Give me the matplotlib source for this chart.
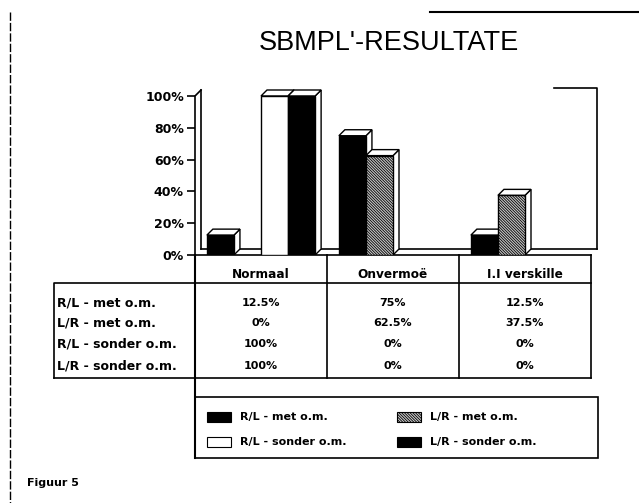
import matplotlib.pyplot as plt
from matplotlib.patches import Polygon, Rectangle

# data
categories = ['Normaal', 'Onvermoë', 'I.I verskille']
series = ['R/L - met o.m.', 'L/R - met o.m.', 'R/L - sonder o.m.', 'L/R - sonder o.m.']
rl_met = [12.5, 75, 12.5]
lr_met = [0, 62.5, 37.5]
rl_sonder = [100, 0, 0]
lr_sonder = [100, 0, 0]
values = [rl_met, lr_met, rl_sonder, lr_sonder]
yticks = [0, 20, 40, 60, 80, 100]

faces = ['black', '#c8c8c8', 'white', 'black']
hatches = [None, '\\\\\\\\\\\\\\\\\\\\\\\\', None, None]

plt.rcParams['hatch.linewidth'] = 0.6

W, H = 639, 503
fig = plt.figure(figsize=(W / 100, H / 100), dpi=100)
fnt = 'DejaVu Sans'

# overlay in pixel coordinates for table, legend and page decorations
ov = fig.add_axes([0, 0, 1, 1], zorder=0)
ov.set_xlim(0, W)
ov.set_ylim(H, 0)
ov.axis('off')

# chart axes: one unit per category (132 px), y in percent (1.59 px per %)
px_cat, px_pct = 132.0, 1.59
x0, y0 = 195, 255
ax = fig.add_axes([x0 / W, (H - y0) / H, 405 / W, 167 / H], zorder=1)
ax.set_facecolor('none')
ax.set_xlim(0, 405 / px_cat)
ax.set_ylim(0, 167 / px_pct)
for s in ax.spines.values():
    s.set_visible(False)
ax.set_xticks([])
ax.set_yticks(yticks)
ax.set_yticklabels([f'{t}%' for t in yticks], fontsize=9, fontweight='bold', family=fnt)
ax.tick_params(axis='y', direction='out', length=6, width=1.2, pad=2)

dx, dy = 6 / px_cat, 6 / px_pct
lw = 1.2

# walls and floor
ax.plot([0, 0, dx], [0, 100, 100 + dy], color='black', lw=lw, clip_on=False)
ax.plot([dx, dx], [dy, 104], color='black', lw=lw, clip_on=False)
ax.plot([dx, 3 + dx], [dy, dy], color='black', lw=lw, clip_on=False, zorder=1)
ax.plot([2.72, 3 + dx, 3 + dx], [105, 105, dy], color='black', lw=lw, clip_on=False)

# 3d bars
bw, off = 0.205, 0.09
for i in range(len(categories)):
    for j, vals in enumerate(values):
        h = vals[i]
        if h == 0:
            continue
        x = i + off + j * bw
        side = Polygon([(x + bw, 0), (x + bw + dx, dy), (x + bw + dx, h + dy), (x + bw, h)],
                       facecolor='white', edgecolor='black', lw=1.0, zorder=2 + j)
        top = Polygon([(x, h), (x + bw, h), (x + bw + dx, h + dy), (x + dx, h + dy)],
                      facecolor='white', edgecolor='black', lw=1.0, zorder=2 + j)
        ax.add_patch(side)
        ax.add_patch(top)
        ax.bar(x, h, width=bw, align='edge', color=faces[j], hatch=hatches[j],
               edgecolor='black', linewidth=1.0, zorder=2 + j)

# title and caption
ov.text(389, 43, "SBMPL'-RESULTATE", ha='center', va='center', fontsize=19.5,
        family='Liberation Sans')
ov.text(27, 483, 'Figuur 5', ha='left', va='center', fontsize=8, fontweight='bold', family=fnt)

# page lines
ov.plot([10, 10], [12, 503], color='black', lw=1.0, ls=(0, (6, 1.5)))
ov.plot([430, 639], [12, 12], color='black', lw=1.5)

# data table
cols = [195, 327, 459, 591]
rows_y = [303, 323, 344, 366]
ov.plot([195, 195], [255, 458], color='black', lw=1.5)
for c in cols[1:]:
    ov.plot([c, c], [255, 378], color='black', lw=1.2)
ov.plot([195, 591], [255, 255], color='black', lw=1.2)
ov.plot([195, 591], [283, 283], color='black', lw=1.2)
ov.plot([54, 591], [378, 378], color='black', lw=1.2)
ov.plot([54, 54, 195], [378, 283, 283], color='black', lw=1.2)
for i, cat in enumerate(categories):
    cx = (cols[i] + cols[i + 1]) / 2
    ov.text(cx, 274, cat, ha='center', va='center', fontsize=8.7, fontweight='bold', family=fnt)
    for j, vals in enumerate(values):
        ov.text(cx, rows_y[j], f'{vals[i]:g}%', ha='center', va='center', fontsize=8,
                fontweight='bold', family=fnt)
for j, name in enumerate(series):
    ov.text(57, rows_y[j], name, ha='left', va='center', fontsize=9, fontweight='bold', family=fnt)

# legend box
ov.add_patch(Rectangle((195, 397), 403, 61, facecolor='none', edgecolor='black', lw=1.2))
leg_pos = [(207, 417), (397, 417), (207, 442), (397, 442)]
for (lx, ly), j in zip(leg_pos, range(len(series))):
    ov.add_patch(Rectangle((lx, ly - 5), 24, 10, facecolor=faces[j], hatch=hatches[j],
                           edgecolor='black', lw=0.8))
    ov.text(lx + 33, ly, series[j], ha='left', va='center', fontsize=8, fontweight='bold', family=fnt)

fig.savefig('out.png', dpi=100, facecolor='white')
